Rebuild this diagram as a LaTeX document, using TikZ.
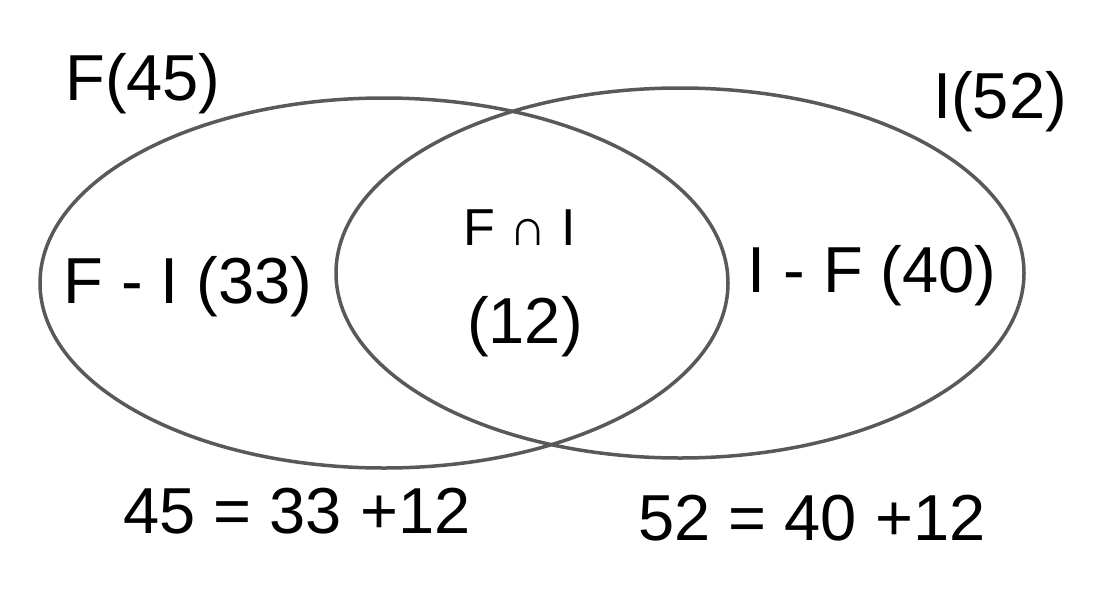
\documentclass[tikz,border=0pt]{standalone}
\usepackage{fontspec}
\setmainfont{Liberation Sans}
\begin{document}
\begin{tikzpicture}[x=1pt,y=-1pt,
  setline/.style={draw=black!65,line width=3.5pt},
  lbl/.style={font=\fontsize{65}{72}\selectfont,inner sep=0pt,anchor=base}]
\useasboundingbox (0,0) rectangle (1111,592);
\draw[setline] (384,283) ellipse [x radius=344, y radius=185];
\draw[setline] (680,273) ellipse [x radius=344, y radius=185];
\node[lbl] (f) at (143,100) {F(45)};
\node[lbl] (i) at (1000,118) {I(52)};
\node[lbl] (fi) at (188,303) {F - I (33)};
\node[lbl,font=\fontsize{52}{58}\selectfont] (cap) at (520,245) {F ∩ I};
\node[lbl] (n12) at (525,343) {(12)};
\node[lbl] (if) at (872,292) {I - F (40)};
\node[lbl] (e1) at (297,533) {45 = 33 +12};
\node[lbl] (e2) at (812,540) {52 = 40 +12};
\end{tikzpicture}
\end{document}
